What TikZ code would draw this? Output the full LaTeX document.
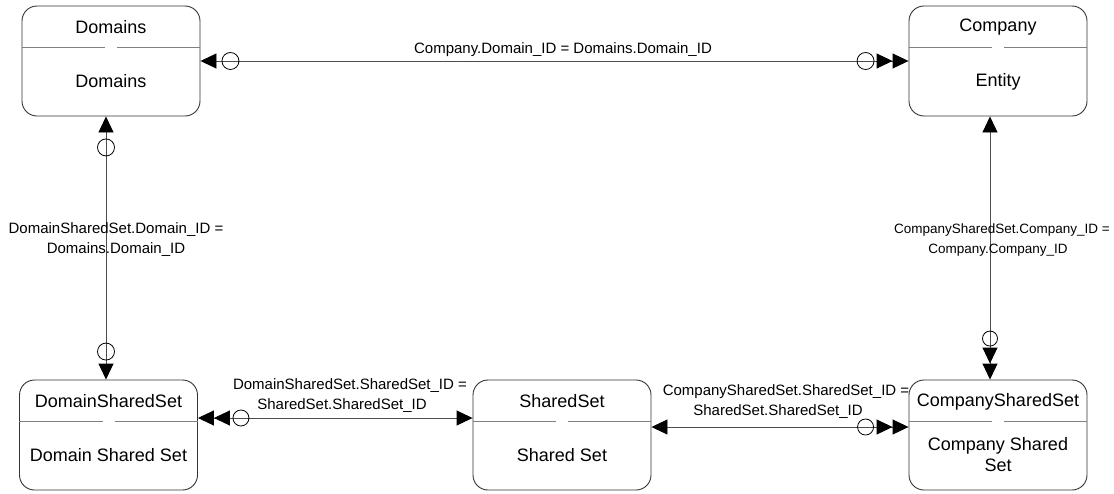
\documentclass[tikz,border=0pt]{standalone}
\usepackage{fontspec}
\setmainfont{Liberation Sans}
\usetikzlibrary{arrows.meta,calc}
\definecolor{boxc}{gray}{0.2}
\definecolor{divc}{gray}{0.5}
\definecolor{linec}{gray}{0.3}
\begin{document}
\begin{tikzpicture}[x=1pt,y=-1pt,
  box/.style={draw=boxc, line width=0.9pt, rounded corners=15pt, minimum width=178pt, minimum height=110pt, inner sep=0pt},
  ttl/.style={font=\fontsize{18}{21}\selectfont, align=center, inner sep=0pt},
  lbl/.style={font=\fontsize{15}{20}\selectfont, align=center, inner sep=0pt},
  lblsmall/.style={font=\fontsize{13.5}{20}\selectfont, align=center, inner sep=0pt},
  conn/.style={draw=linec, line width=0.9pt},
  ring/.style={draw=black, line width=0.8pt},
  divline/.style={draw=divc, line width=0.9pt},
  >={Triangle[length=16pt,width=15pt,color=black]}
  ]
\useasboundingbox (0,0) rectangle (1114,493);

% boxes
\node[box] (dom) at (111,61) {};
\node[box] (com) at (998,61) {};
\node[box] (dss) at (108.5,435) {};
\node[box] (ss)  at (562,435) {};
\node[box] (css) at (998,435) {};

% dividers
\foreach \b in {dom,com,dss,ss,css}{
  \draw[divline] ($(\b.north west)+(0,42)$) -- ($(\b.north)+(-6,42)$);
  \draw[divline] ($(\b.north)+(6,42)$) -- ($(\b.north east)+(0,42)$);
}

% texts
\node[ttl] (domH) at ($(dom.north)+(0,22)$) {Domains};
\node[ttl] (domB) at ($(dom.north)+(0,76)$) {Domains};
\node[ttl] (comH) at ($(com.north)+(0,22)$) {Company};
\node[ttl] (comB) at ($(com.north)+(0,76)$) {Entity};
\node[ttl] (dssH) at ($(dss.north)+(0,22)$) {DomainSharedSet};
\node[ttl] (dssB) at ($(dss.north)+(0,76)$) {Domain Shared Set};
\node[ttl] (ssH)  at ($(ss.north)+(0,22)$) {SharedSet};
\node[ttl] (ssB)  at ($(ss.north)+(0,76)$) {Shared Set};
\node[ttl] (cssH) at ($(css.north)+(0,22)$) {CompanySharedSet};
\node[ttl] (cssB) at ($(css.north)+(0,75)$) {Company Shared\\Set};

% connectors
\draw[conn,<->>] (dom.east) -- (com.west);
\draw[ring] ($(dom.east)+(30,0)$) circle (8.5);
\draw[ring] ($(com.west)+(-43,0)$) circle (8.5);
\node[lbl] (l1) at (563,50) {Company.Domain\_ID = Domains.Domain\_ID};

\coordinate (a1) at ($(dom.south)+(-5,0)$);
\coordinate (a2) at ($(dss.north)+(-2.5,0)$);
\draw[conn,<->] (a1) -- (a2);
\draw[ring] ($(a1)+(0,31)$) circle (8.5);
\draw[ring] ($(a2)+(0,-28)$) circle (8.5);
\node[lbl] (l2) at (116,240) {DomainSharedSet.Domain\_ID =\\Domains.Domain\_ID};

\coordinate (b1) at ($(com.south)+(-8,0)$);
\coordinate (b2) at ($(css.north)+(-8,0)$);
\draw[conn,<->>] (b1) -- (b2);
\draw[ring] ($(b2)+(0,-41)$) circle (7.5);
\node[lblsmall] (l3) at (1002,240) {CompanySharedSet.Company\_ID =\\Company.Company\_ID\hspace*{8pt}};

\coordinate (c1) at ($(dss.east)+(0,-17)$);
\coordinate (c2) at ($(ss.west)+(0,-17)$);
\draw[conn,<<->] (c1) -- (c2);
\draw[ring] ($(c1)+(43,0)$) circle (8);
\node[lbl] (l4) at (350,395.5) {DomainSharedSet.SharedSet\_ID =\\SharedSet.SharedSet\_ID\hspace*{16pt}};

\coordinate (d1) at ($(ss.east)+(0,-8)$);
\coordinate (d2) at ($(css.west)+(0,-8)$);
\draw[conn,<->>] (d1) -- (d2);
\draw[ring] ($(d2)+(-43,0)$) circle (8);
\node[lbl] (l5) at (786,402) {CompanySharedSet.SharedSet\_ID =\\SharedSet.SharedSet\_ID\hspace*{16pt}};
\end{tikzpicture}
\end{document}
